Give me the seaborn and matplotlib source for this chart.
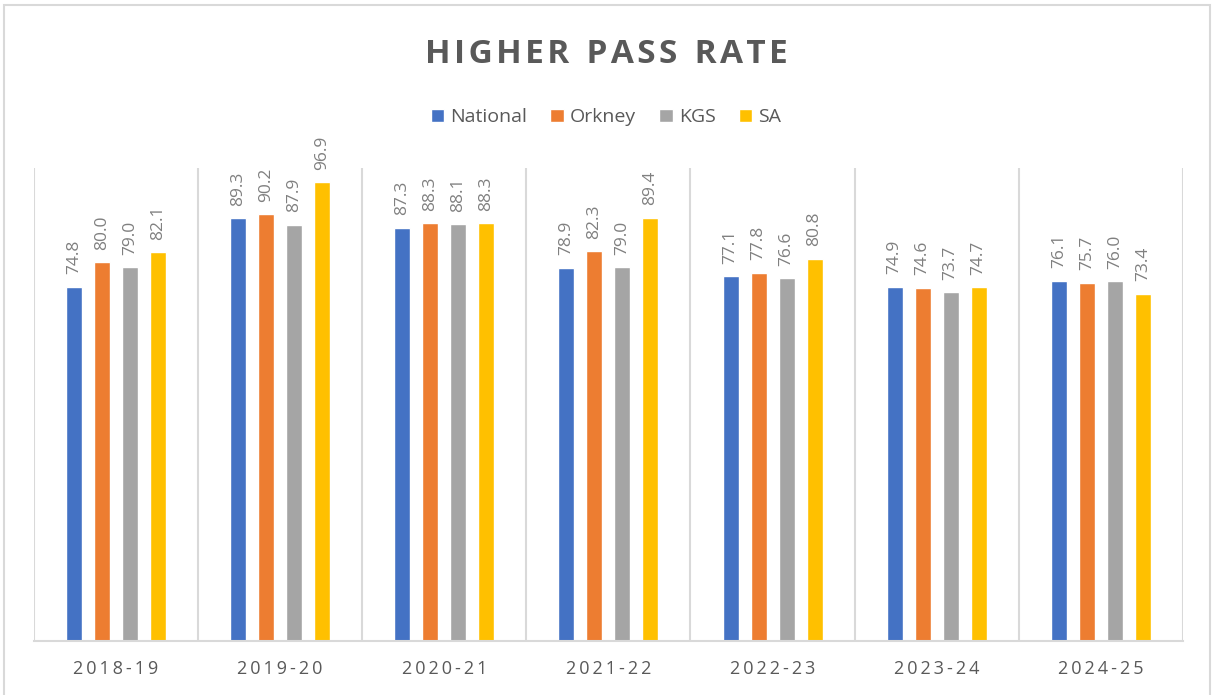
import matplotlib
matplotlib.use("Agg")
import matplotlib.pyplot as plt
import matplotlib.ticker as mticker
import numpy as np
import pandas as pd
import seaborn as sns
from matplotlib.patches import Rectangle

YEARS = ["2018-19", "2019-20", "2020-21", "2021-22", "2022-23", "2023-24", "2024-25"]
SERIES = ["National", "Orkney", "KGS", "SA"]
NATIONAL = [74.8, 89.3, 87.3, 78.9, 77.1, 74.9, 76.1]
ORKNEY = [80.0, 90.2, 88.3, 82.3, 77.8, 74.6, 75.7]
KGS = [79.0, 87.9, 88.1, 79.0, 76.6, 73.7, 76.0]
SA = [82.1, 96.9, 88.3, 89.4, 80.8, 74.7, 73.4]
COLORS = ["#4472C4", "#ED7D31", "#A5A5A5", "#FFC000"]


def main() -> None:
    rows = []
    for name, vals in zip(SERIES, [NATIONAL, ORKNEY, KGS, SA]):
        for year, v in zip(YEARS, vals):
            rows.append({"year": year, "series": name, "rate": v})
    df = pd.DataFrame(rows)

    sns.set_theme(style="white")
    plt.rcParams["font.family"] = ["Open Sans", "DejaVu Sans"]

    fig = plt.figure(figsize=(12.12, 6.95), dpi=100)
    ax = fig.add_axes([0.028, 0.0777, 0.948, 0.681])

    sns.barplot(data=df, x="year", y="rate", hue="series", order=YEARS,
                hue_order=SERIES, palette=COLORS, width=0.683, gap=0.43,
                saturation=1, ax=ax, legend=True)

    for cont in ax.containers:
        ax.bar_label(cont, fmt="%.1f", rotation=90, padding=9,
                     color="#808080", fontsize=12.5)

    ax.set_ylim(0, 100)
    ax.set_xlim(-0.5, len(YEARS) - 0.5)
    ax.set_yticks([])
    ax.set_xlabel("")
    ax.set_ylabel("")
    ax.set_xticks(range(len(YEARS)))
    ax.set_xticklabels(["\u2009".join(y) for y in YEARS], color="#595959", fontsize=13)
    ax.tick_params(axis="x", length=0, pad=14)

    ax.xaxis.set_minor_locator(mticker.FixedLocator(np.arange(-0.5, len(YEARS), 1)))
    ax.grid(which="minor", axis="x", color="#d9d9d9", linewidth=1.5)
    ax.grid(which="major", visible=False)
    ax.tick_params(which="minor", length=0)
    for side in ["top", "left", "right"]:
        ax.spines[side].set_visible(False)
    ax.spines["bottom"].set_color("#d9d9d9")
    ax.spines["bottom"].set_linewidth(1.5)

    handles, labels = ax.get_legend_handles_labels()
    ax.legend(handles, labels, loc="center", bbox_to_anchor=(0.5, 0.831),
              bbox_transform=fig.transFigure, ncol=4, frameon=False,
              handlelength=0.7, handleheight=0.7, handletextpad=0.3,
              columnspacing=1.2, fontsize=14, labelcolor="#595959")

    title = "  ".join("\u200a".join(w) for w in "HIGHER PASS RATE".split())
    fig.text(0.5, 0.922, title, ha="center", va="center", fontsize=24,
             fontweight="bold", color="#595959")

    fig.patches.append(Rectangle((0.003, -0.01), 0.995, 1.003, transform=fig.transFigure,
                                 fill=False, edgecolor="#d9d9d9", linewidth=1.5))

    fig.savefig("out.png", dpi=100)
    plt.close(fig)


if __name__ == "__main__":
    main()
